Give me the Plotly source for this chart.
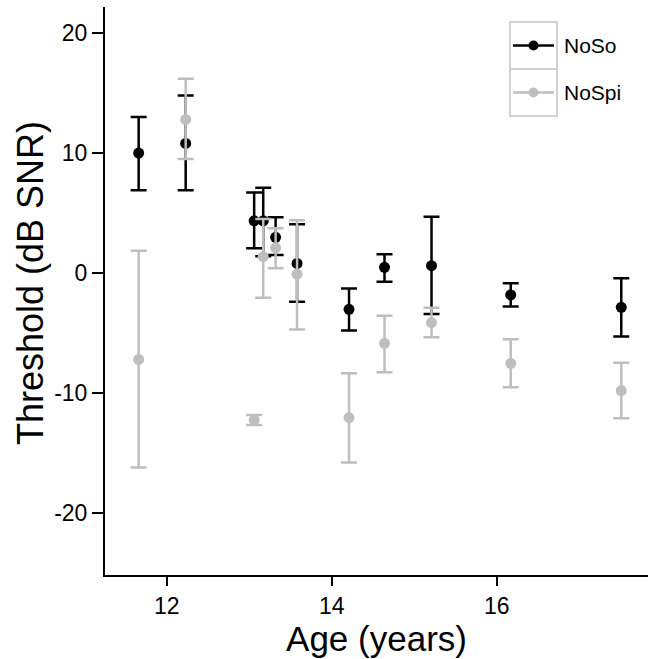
import plotly.graph_objects as go

# ---- data ----
ages = [11.66, 12.23, 13.06, 13.17, 13.32, 13.58, 14.21, 14.64, 15.21, 16.17, 17.51]

noso = [10.0, 10.8, 4.35, 4.35, 2.97, 0.8, -3.03, 0.47, 0.61, -1.83, -2.86]
noso_hi = [13.0, 14.8, 6.7, 7.1, 4.64, 4.06, -1.3, 1.56, 4.68, -0.86, -0.44]
noso_lo = [6.9, 6.9, 2.06, 1.4, 1.5, -2.4, -4.8, -0.72, -3.42, -2.8, -5.3]

nospi = [-7.2, 12.8, -12.25, 1.36, 2.1, -0.1, -12.06, -5.86, -4.14, -7.53, -9.8]
nospi_hi = [1.86, 16.2, -11.83, 4.5, 3.72, 4.4, -8.36, -3.56, -2.89, -5.53, -7.47]
nospi_lo = [-16.2, 9.5, -12.67, -2.06, 0.39, -4.7, -15.8, -8.28, -5.36, -9.53, -12.1]

series_names = ["NoSo", "NoSpi"]
series_colors = ["#000000", "#BEBEBE"]

x_ticks = [12, 14, 16]
y_ticks = [-20, -10, 0, 10, 20]

W, H = 648, 659
ML, MR, MT, MB = 105, 0, 7, 84
FONT = "Liberation Sans, Arial, sans-serif"

fig = go.Figure()
for name, color, y, hi, lo in [
    (series_names[0], series_colors[0], noso, noso_hi, noso_lo),
    (series_names[1], series_colors[1], nospi, nospi_hi, nospi_lo),
]:
    fig.add_trace(go.Scatter(
        x=ages, y=y, mode="markers", name=name, showlegend=False,
        marker=dict(color=color, size=11),
        error_y=dict(type="data", symmetric=False,
                     array=[h - v for h, v in zip(hi, y)],
                     arrayminus=[v - l for l, v in zip(lo, y)],
                     color=color, thickness=2.5, width=8),
    ))

# ---- manual legend (ggplot style key boxes) ----
pw = W - ML - MR
ph = H - MT - MB
def px(x):
    return (x - ML) / pw
def py(y):
    return (H - MB - y) / ph

box_l, box_r = 510, 557
box_t, box_b = 22, 116
mid = (box_t + box_b) / 2
shapes = []
for i, (name, color) in enumerate(zip(series_names, series_colors)):
    t = box_t + i * (mid - box_t)
    b = t + (mid - box_t)
    cy = (t + b) / 2
    shapes.append(dict(type="rect", xref="paper", yref="paper",
                       x0=px(box_l), x1=px(box_r), y0=py(b), y1=py(t),
                       line=dict(color="#D0D0D0", width=2), fillcolor="white", layer="above"))
    shapes.append(dict(type="line", xref="paper", yref="paper",
                       x0=px(box_l + 3), x1=px(box_r - 3), y0=py(cy), y1=py(cy),
                       line=dict(color=color, width=2.5), layer="above"))
    shapes.append(dict(type="circle", xref="paper", yref="paper",
                       xsizemode="pixel", ysizemode="pixel",
                       xanchor=px((box_l + box_r) / 2), yanchor=py(cy),
                       x0=-5, x1=5, y0=-5, y1=5,
                       fillcolor=color, line=dict(color=color, width=0), layer="above"))
    fig.add_annotation(xref="paper", yref="paper", x=px(box_r + 5), y=py(cy),
                       text=name, showarrow=False, xanchor="left", yanchor="middle",
                       font=dict(family=FONT, size=21, color="black"))

# y-axis title as a rotated annotation (centred slightly above plot middle)
fig.add_annotation(xref="paper", yref="paper", x=px(30), y=py(283),
                   text="Threshold (dB SNR)", textangle=-90, showarrow=False,
                   xanchor="center", yanchor="middle",
                   font=dict(family=FONT, size=36, color="black"))

fig.update_layout(
    width=W, height=H,
    margin=dict(l=ML, r=MR, t=MT, b=MB),
    plot_bgcolor="white", paper_bgcolor="white",
    font=dict(family=FONT, color="black"),
    shapes=shapes,
    xaxis=dict(range=[11.252, 17.834], tickvals=x_ticks, ticktext=[str(v) for v in x_ticks],
               showline=True, linecolor="black", linewidth=2, ticks="outside",
               ticklen=9, tickwidth=2, tickcolor="black", showgrid=False, zeroline=False,
               tickfont=dict(size=23, family=FONT),
               title=dict(text="Age (years)", font=dict(size=35, family=FONT), standoff=2)),
    yaxis=dict(range=[-25.17, 22.17], tickvals=y_ticks, ticktext=[str(v) for v in y_ticks],
               showline=True, linecolor="black", linewidth=2, ticks="outside",
               ticklen=11, tickwidth=2, tickcolor="black", showgrid=False, zeroline=False,
               tickfont=dict(size=23, family=FONT)),
)

fig.write_html("out.html")
